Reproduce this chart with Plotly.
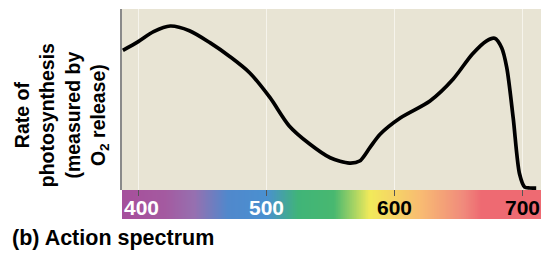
import plotly.graph_objects as go
import numpy as np

# Action spectrum curve (wavelength nm, relative rate 0-100)
wavelength = [388, 400, 412, 425, 440, 456, 472, 487, 503, 518, 534, 550, 565, 573,
              581, 589, 605, 628, 646, 661, 672, 678.5, 684, 688, 693, 698, 702, 706, 711]
rate = [77.2, 82.0, 87.5, 90.6, 88.0, 81.4, 73.5, 64.8, 51.0, 35.4, 25.4, 17.8, 14.9, 16.0,
        23.4, 30.8, 39.9, 49.2, 61.2, 75.0, 82.3, 83.8, 78.6, 67.6, 39.9, 8.8, 1.6, 1.1, 1.0]

tick_vals = [400, 500, 600, 700]
tick_labels = ["400", "500", "600", "700"]
tick_colors = ["white", "white", "black", "black"]
tick_shift = [3, 0, 0, 0]

# spectrum bar colour stops (wavelength -> colour)
spec_wl = [385, 395, 421, 444, 470, 500, 525, 553, 581, 620, 654, 668, 722]
spec_col = ["#a4509c", "#a6519c", "#a45aa0", "#9670b0", "#5088cc", "#4a90d0", "#40b478",
            "#48b870", "#f2ea5a", "#f8bc72", "#f08a7c", "#ee6a72", "#ee6a72"]

x_min, x_max = 387.3, 721.0
lo, hi = spec_wl[0], spec_wl[-1]
colorscale = [[(w - lo) / (hi - lo), c] for w, c in zip(spec_wl, spec_col)]
bar_x = np.arange(lo, hi + 0.5, 0.5)

fig = go.Figure()
fig.add_trace(go.Scatter(x=wavelength, y=rate, mode="lines",
                         line=dict(color="black", width=3.7, shape="spline", smoothing=0.8),
                         xaxis="x", yaxis="y", showlegend=False, hoverinfo="skip"))
fig.add_trace(go.Heatmap(x=bar_x, y=[0], z=[bar_x.tolist()], colorscale=colorscale,
                         zmin=lo, zmax=hi, showscale=False, xaxis="x2", yaxis="y2",
                         hoverinfo="skip"))

bar_frac = 29 / 210
fig.update_layout(
    width=541, height=248,
    margin=dict(l=114, r=0, t=1, b=37),
    paper_bgcolor="white",
    plot_bgcolor="#e8e4d4",
    font=dict(family="Liberation Sans, Arial, sans-serif", color="black"),
    xaxis=dict(range=[x_min, x_max], domain=[0, 1], anchor="y", tickvals=tick_vals,
               showticklabels=False, showgrid=True, gridcolor="#f6f4ec", gridwidth=1,
               zeroline=False, showline=False, ticks=""),
    yaxis=dict(range=[0, 100], domain=[bar_frac, 1], anchor="x", showticklabels=False,
               showgrid=False, zeroline=False, showline=True, linecolor="#8a8a8a",
               linewidth=2, ticks=""),
    xaxis2=dict(range=[x_min, x_max], domain=[0, 1], anchor="y2", side="top",
                tickvals=tick_vals, showticklabels=False, ticks="inside", ticklen=6,
                tickwidth=1, tickcolor="#555555", showgrid=False, zeroline=False,
                showline=False),
    yaxis2=dict(range=[-0.5, 0.5], domain=[0, bar_frac], anchor="x2", showticklabels=False,
                showgrid=False, zeroline=False, showline=False, ticks=""),
)

for v, t, c, s in zip(tick_vals, tick_labels, tick_colors, tick_shift):
    fig.add_annotation(x=v, y=-0.1, xref="x2", yref="y2", text="<b>%s</b>" % t,
                       showarrow=False, xanchor="center", yanchor="middle", xshift=s,
                       font=dict(size=21, color=c))

fig.add_annotation(x=-0.1425, y=0.495, xref="paper", yref="paper", textangle=-90,
                   text="<b>Rate of<br>photosynthesis<br>(measured by<br>O<sub>2</sub> release)</b>",
                   showarrow=False, xanchor="center", yanchor="middle", align="center",
                   font=dict(size=19.5, color="black"))

fig.add_annotation(x=-0.262, y=-0.0905, xref="paper", yref="paper",
                   text="<b>(b) Action spectrum</b>", showarrow=False,
                   xanchor="left", yanchor="middle", font=dict(size=21.5, color="black"))

fig.write_html("out.html")
